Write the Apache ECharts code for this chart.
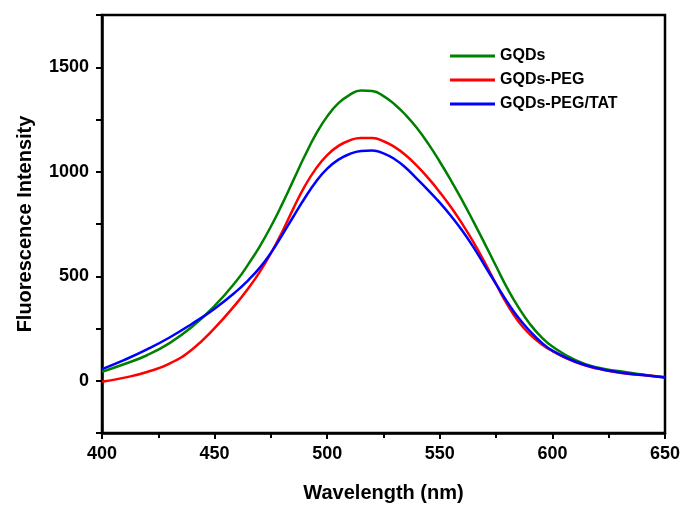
<!DOCTYPE html>
<html>
<head>
<meta charset="utf-8">
<script src="https://cdn.jsdelivr.net/npm/echarts@6/dist/echarts.min.js"></script>
<style>
  html, body { margin: 0; padding: 0; background: #fff; }
  #chart { width: 687px; height: 511px; }
</style>
</head>
<body>
<div id="chart"></div>
<script>
// wavelength (nm)
var wavelengths = [400, 410, 420, 430, 440, 450, 460, 465, 470, 475, 480, 485, 490, 495,
  500, 505, 510, 515, 520, 525, 530, 535, 540, 545, 550, 555, 560, 565, 570, 575,
  580, 585, 590, 595, 600, 610, 620, 630, 640, 650];

// fluorescence intensity
var gqds = [43, 80, 122, 180, 258, 358, 482, 558, 642, 738, 845, 960, 1075, 1180,
  1265, 1328, 1368, 1389, 1386, 1362, 1322, 1270, 1207, 1132, 1048, 958, 862, 760, 655, 548,
  442, 350, 272, 210, 164, 100, 63, 45, 30, 15];
var gqdsPeg = [-5, 15, 42, 82, 150, 252, 374, 443, 520, 610, 712, 825, 930, 1015,
  1080, 1124, 1150, 1162, 1161, 1146, 1118, 1078, 1027, 968, 902, 830, 750, 662, 565, 462,
  364, 282, 222, 176, 142, 90, 58, 38, 27, 18];
var gqdsPegTat = [56, 100, 150, 207, 273, 345, 431, 482, 540, 612, 697, 786, 873, 952,
  1015, 1058, 1085, 1099, 1102, 1088, 1060, 1018, 965, 910, 852, 788, 718, 638, 550, 462,
  376, 300, 238, 185, 144, 92, 60, 40, 27, 16];

var seriesNames = ['GQDs', 'GQDs-PEG', 'GQDs-PEG/TAT'];
var seriesColors = ['#008000', '#ff0000', '#0000ff'];
var seriesValues = [gqds, gqdsPeg, gqdsPegTat];

var font = '"Liberation Sans", Arial, sans-serif';

var chart = echarts.init(document.getElementById('chart'));

var series = seriesValues.map(function (vals, i) {
  return {
    name: seriesNames[i],
    type: 'line',
    smooth: 0.5,
    showSymbol: false,
    data: wavelengths.map(function (w, j) { return [w, vals[j]]; }),
    lineStyle: { color: seriesColors[i], width: 2.5 },
    itemStyle: { color: seriesColors[i] }
  };
});

chart.setOption({
  animation: false,
  backgroundColor: '#fff',
  grid: {
    left: 102, right: 22, top: 15, bottom: 78,
    show: true, borderColor: '#000', borderWidth: 2.5
  },
  legend: {
    orient: 'vertical',
    left: 445, top: 41,
    icon: 'rect',
    itemWidth: 45, itemHeight: 3,
    itemGap: 4,
    textStyle: { fontFamily: font, fontWeight: 'bold', fontSize: 16, color: '#000', lineHeight: 20 },
    data: seriesNames
  },
  xAxis: {
    type: 'value',
    min: 400, max: 650, interval: 50,
    name: 'Wavelength (nm)',
    nameLocation: 'middle',
    nameGap: 50,
    nameTextStyle: { fontFamily: font, fontWeight: 'bold', fontSize: 20, color: '#000' },
    axisLine: { onZero: false, lineStyle: { color: '#000', width: 2.5 } },
    axisTick: { length: 6, lineStyle: { color: '#000', width: 2 } },
    minorTick: { show: true, splitNumber: 2, length: 5, lineStyle: { color: '#000', width: 2 } },
    axisLabel: { margin: 12, fontFamily: font, fontWeight: 'bold', fontSize: 18, color: '#000' },
    splitLine: { show: false }
  },
  yAxis: {
    type: 'value',
    min: -250, max: 1750, interval: 250,
    name: 'Fluorescence Intensity',
    nameLocation: 'middle',
    nameGap: 67,
    nameTextStyle: { fontFamily: font, fontWeight: 'bold', fontSize: 20, color: '#000' },
    axisLine: { show: true, onZero: false, lineStyle: { color: '#000', width: 2.5 } },
    axisTick: { length: 6, lineStyle: { color: '#000', width: 2 } },
    axisLabel: {
      margin: 13, fontFamily: font, fontWeight: 'bold', fontSize: 18, color: '#000',
      formatter: function (v) { return (v >= 0 && v <= 1500 && v % 500 === 0) ? String(v) : ''; }
    },
    splitLine: { show: false }
  },
  series: series
});
</script>
</body>
</html>
